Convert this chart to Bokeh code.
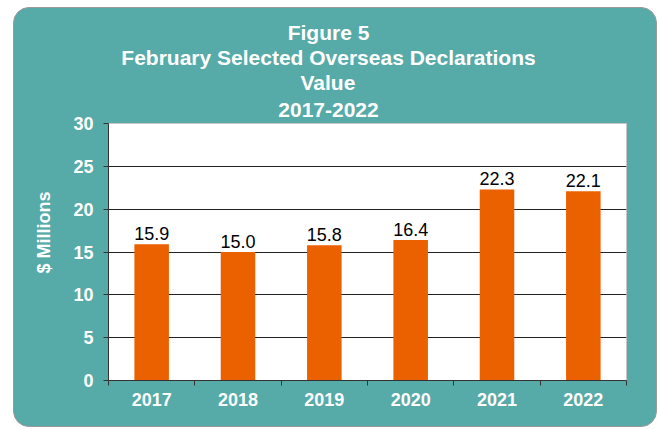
from bokeh.plotting import figure
from bokeh.models import ColumnDataSource, FixedTicker, Range1d, Title
from bokeh.core.properties import value
from bokeh.embed import file_html
from bokeh.resources import INLINE

# ---- data ----
years = ["2017", "2018", "2019", "2020", "2021", "2022"]
values = [15.9, 15.0, 15.8, 16.4, 22.3, 22.1]
y_ticks = [0, 5, 10, 15, 20, 25, 30]
title_lines = ["Figure 5", "February Selected Overseas Declarations", "Value", "2017-2022"]
y_label = "$ Millions"

TEAL = "#56AAA8"
ORANGE = "#EB6100"
FONT = "Liberation Sans"
TITLE_SIZE = 21

# approximate advance widths (1/1000 em) of the bold sans font, used to centre title lines
BOLD_W = {" ": 278, "F": 611, "i": 278, "g": 611, "u": 611, "r": 389, "e": 556, "5": 556,
          "b": 611, "a": 556, "y": 556, "S": 667, "l": 278, "c": 556, "t": 333, "d": 611,
          "O": 778, "v": 556, "s": 556, "D": 722, "o": 611, "n": 611, "V": 667, "2": 556,
          "0": 556, "1": 556, "7": 556, "-": 333}


def text_width(s, size):
    return sum(BOLD_W.get(c, 556) for c in s) / 1000 * size


xs = [i + 0.5 for i in range(len(years))]
src = ColumnDataSource(dict(x=xs, top=values, label=[f"{v:.1f}" for v in values]))

p = figure(width=644, height=420, output_backend="svg", toolbar_location=None,
           x_range=Range1d(0, len(years)), y_range=Range1d(0, y_ticks[-1]),
           min_border_left=93, min_border_right=32, min_border_top=115, min_border_bottom=48,
           border_fill_color=None, background_fill_color="white",
           outline_line_color="#c8c8c8")
p.styles = {"background-color": TEAL, "border-radius": "16px",
            "border": "1px solid #9a9a9a"}
p.margin = (7, 0, 0, 13)

# x axis: labels at centers, ticks at category boundaries
p.xaxis.ticker = FixedTicker(ticks=xs, minor_ticks=list(range(len(years) + 1)))
p.xaxis.major_label_overrides = {x: y for x, y in zip(xs, years)}
p.xaxis.major_tick_line_color = None
p.xaxis.minor_tick_in = 0
p.xaxis.minor_tick_out = 5
p.xaxis.minor_tick_line_color = "#333333"
p.xaxis.axis_line_color = "#333333"
p.xaxis.major_label_standoff = 6

p.yaxis.ticker = FixedTicker(ticks=y_ticks)
p.yaxis.minor_tick_line_color = None
p.yaxis.major_tick_in = 0
p.yaxis.major_tick_out = 5
p.yaxis.major_tick_line_color = "#333333"
p.yaxis.axis_line_color = "#333333"
p.yaxis.major_label_standoff = 10

for ax in (p.xaxis, p.yaxis):
    ax.major_label_text_font = FONT
    ax.major_label_text_font_size = "18px"
    ax.major_label_text_font_style = "bold"
    ax.major_label_text_color = "white"

p.xgrid.grid_line_color = None
p.ygrid.grid_line_color = "#222222"

p.vbar(x="x", top="top", width=0.4, bottom=0, source=src,
       fill_color=ORANGE, line_color=None)
p.text(x="x", y="top", text="label", source=src, text_align="center",
       text_baseline="bottom", y_offset=-4, text_font=value(FONT),
       text_font_size="18px", text_color="black")

# y-axis title (left panel), shifted up like the original
p.add_layout(Title(text=y_label, align="right", offset=68, standoff=34,
                   text_font=FONT, text_font_style="bold", text_font_size="18px",
                   text_color="white"), "left")

# title lines, stacked upward from the plot frame
title_centre = 220
standoffs = [0, 0, 0, 14]
for line, so in reversed(list(zip(title_lines, standoffs))):
    p.add_layout(Title(text=line, align="left",
                       offset=title_centre - text_width(line, TITLE_SIZE) / 2,
                       standoff=so, text_font=FONT, text_font_style="bold",
                       text_font_size=f"{TITLE_SIZE}px", text_color="white"), "above")

open("out.html", "w").write(file_html(p, INLINE))
